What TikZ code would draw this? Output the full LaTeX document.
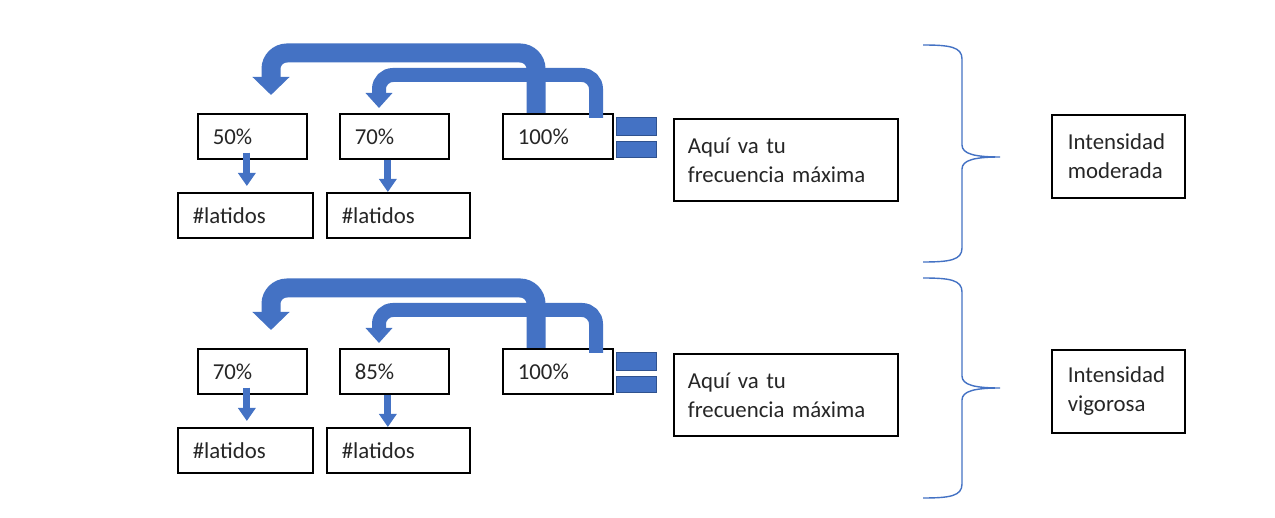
\documentclass[tikz,border=0pt]{standalone}
\usepackage{fontspec}
\setmainfont{Carlito}[WordSpace=0.8]
\usetikzlibrary{arrows.meta,calc}
\definecolor{obl}{HTML}{4472C4}
\definecolor{obd}{HTML}{2F528F}
\definecolor{txt}{HTML}{262626}
\begin{document}
\begin{tikzpicture}[x=1pt,y=-1pt,
  box/.style={draw=black,line width=1.7pt,anchor=north west,inner xsep=15pt,inner ysep=0pt,
    align=left,text=txt,font=\fontsize{22.8}{29}\selectfont},
  pbox/.style={box,text width=79pt,minimum height=45pt},
  lboxa/.style={box,text width=105pt,minimum height=45pt},
  lboxb/.style={box,text width=113pt,minimum height=45pt},
  abox/.style={box,inner xsep=14pt,text width=196pt,minimum height=82pt},
  ibox/.style={box,inner xsep=16pt,text width=101pt,minimum height=83pt},
  eqbar/.style={fill=obl,draw=obd,line width=0.8pt,anchor=north west,inner sep=0pt,minimum width=40pt},
  outarr/.style={draw=obl,line width=19pt,rounded corners=16pt,-{Triangle[length=18pt,width=36pt]}},
  inarr/.style={draw=obl,line width=14pt,rounded corners=14pt,-{Triangle[length=15pt,width=26pt]}},
  darr/.style={draw=obl,line width=7pt,-{Triangle[length=13pt,width=17pt]}},
  bracestyle/.style={draw=obl,line width=1.4pt}
]
\fill[white] (0,0) rectangle (1275,518);
\useasboundingbox (0,0) rectangle (1275,518);
\foreach \r/\dy/\pa/\pb/\lvl/\bt/\bm/\bb in {t/0/50/70/moderada/45/157/262, b/235/70/85/vigorosa/278/388/498}{
  \begin{scope}[shift={(0,\dy)}]
    \node[pbox] (pa\r) at (197,113) {\pa\%};
    \node[pbox] (pb\r) at (339,113) {\pb\%};
    \node[pbox,text width=80pt] (pc\r) at (502,113) {100\%};
    \node[lboxa] (la\r) at (177,192) {\#latidos};
    \node[lboxb] (lb\r) at (326,192) {\#latidos};
    \node[abox] (fm\r) at (673,118) {Aquí va tu\\frecuencia máxima};
    \node[eqbar,minimum height=18pt] (eqa\r) at (616,117) {};
    \node[eqbar,minimum height=16pt] (eqb\r) at (616,141) {};
    \coordinate (ta\r) at (271,95);
    \coordinate (tb\r) at (379,108);
    \draw[outarr] ($(pc\r.north west)+(34,0)$) |- (271,53) -- (ta\r);
    \draw[inarr] ($(pc\r.north west)+(94,5)$) |- (379,75) -- (tb\r);
    \draw[darr] ($(pa\r.south)+(-5.5,-7)$) -- ($(la\r.north)+(1.5,-6)$);
    \draw[darr] ($(pb\r.south)+(-6.5,0)$) -- ($(lb\r.north)+(-10.5,0)$);
  \end{scope}
  \node[ibox] (in\r) at (1051,{114+\dy}) {Intensidad\\\lvl};
  \draw[bracestyle] (923,\bt) .. controls (950,\bt) and (962,{\bt+2}) .. (962,{\bt+14})
    -- (962,{\bm-12}) .. controls (962,{\bm-3}) and (975,\bm) .. (1000,\bm)
    .. controls (975,\bm) and (962,{\bm+3}) .. (962,{\bm+12})
    -- (962,{\bb-14}) .. controls (962,{\bb-2}) and (950,\bb) .. (923,\bb);
}
\end{tikzpicture}
\end{document}
